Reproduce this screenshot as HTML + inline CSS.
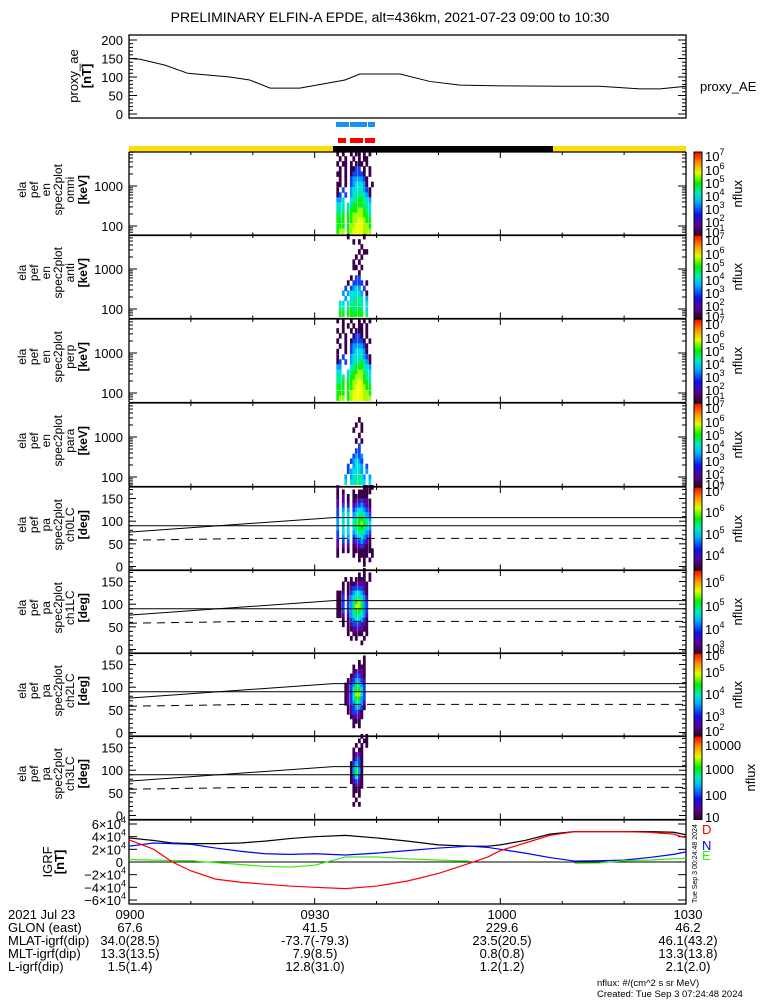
<!DOCTYPE html>
<html><head><meta charset="utf-8">
<style>
html,body{margin:0;padding:0;background:#fff;}
svg{display:block;font-family:"Liberation Sans",sans-serif;}
</style></head>
<body>
<svg id="c" width="775" height="1000" viewBox="0 0 775 1000" xmlns="http://www.w3.org/2000/svg">
<defs>
<linearGradient id="rb" x1="0" y1="1" x2="0" y2="0">
<stop offset="0" stop-color="#2a0030"/><stop offset="0.12" stop-color="#5a0090"/><stop offset="0.25" stop-color="#1010f0"/><stop offset="0.4" stop-color="#00b0ff"/><stop offset="0.5" stop-color="#00e8c0"/><stop offset="0.62" stop-color="#00f000"/><stop offset="0.75" stop-color="#e0ff00"/><stop offset="0.87" stop-color="#ff9000"/><stop offset="1" stop-color="#ff0000"/>
</linearGradient>
</defs>
<text x="390" y="22" font-size="14" text-anchor="middle">PRELIMINARY ELFIN-A EPDE, alt=436km, 2021-07-23 09:00 to 10:30</text>
</svg>
<script>
// ---- data ----
var aeTimes=[0,1.8,5.8,9.5,16.3,19.5,22.8,27.6,34.9,37.3,43.8,48.6,53.5,60,70,76,82.5,85.8,90];
var aeValues=[150,148,132,110,100,92,70,70,92,108,108,88,78,76,75,75,68,68,75];
var igrfTimes=[0,4,7,10,14,18,22,26,30,35,40,45,50,55,58,60,64,68,72,76,80,84,88,90];
var igrfD=[35000,20000,0,-14000,-27000,-32000,-35000,-38000,-40000,-42000,-38000,-30000,-18000,-2000,8000,18000,30000,42000,48000,48000,48000,47000,44000,38000];
var igrfTot=[38000,34000,30000,29000,29000,30000,33000,37000,40000,42000,38000,33000,27000,25000,25000,27000,34000,44000,48000,48000,48000,48000,47000,43000];
var igrfN=[25000,30000,29000,28000,22000,17000,13000,12000,13000,11000,14000,18000,22000,25000,23000,20000,14000,7000,1500,2000,3000,7000,12000,16000];
var igrfE=[4000,3000,2500,2000,-1000,-4000,-7000,-8000,-5000,8000,8000,5000,3000,1500,null,null,null,null,-2000,-1500,2000,3000,5000,6000];
var colTimes=[33.5,33.9,34.4,34.8,35.2,35.7,36.1,36.5,37.0,37.4,37.8,38.2,38.7,39.1];
var energyBins=[6500,4800,3600,2700,2000,1500,1100,800,600,450,330,250,185,140,100,75];
var paBins=[175,165,155,145,135,125,115,105,95,85,75,65,55,45,35,25,15,5];
var specOmni=["1.1..1.11.1.1.",".1.1..1.1.11..","1.11.1.111.1..",".1.1.1133.1.1.","11.1.133331.1.",".1.1.3444431..","11.1.3455541.1","1.3..45556431.","13.3.45666541.","445..56677654.","556.567777665.","656.677788765.","767.778888776.","777.778899877.","777.788999887.","788.789999888."];
var specAnti=["....1.....1...","......1.1.....",".........1....","........1.11..",".......1.1....","......1.1.....","......11.1....","........1.....",".....1.33.....","....1.3333.1..","...3.3454.3...","..4.455554.1..","...4.55665.4..",".55.566665.5..",".66.676676.5..",".77.777777.6.."];
var specPerp=["1.1..1..1.1.1.","..1.1.1.11.1..","1.1..1.111.1..",".1.1..1331.1..","1..1.133331.1.",".1.1.3444431..","1..1.3455541..","1.3..45556431.","13.3.45667541.","44...56777654.","55..567788665.","666.677888765.","667.778899776.","777.778999877.","777.789999887.","788.789999888."];
var specPara=["..............","..............","..............","........1.....",".......1.1....","......1..1....","........1.....",".......1.1....","........3.....",".......33.....","......3434....",".....34543....","....3.4554.3..","....345554.4..","...4.456654.4.","...5.556655.5."];
var specCh0=["2.........1111","1.1...1.11111.","1.2.1.111111..","2.2.1.1223221.","2.3.2.2334321.","3.4.4.3455432.","3.5.5.4566543.","4.5.5.5677654.","4.5.5.6678765.","4.5.5.5677654.","3.5.5.4566543.","3.4.4.3455432.","2.3.3.2334321.","2.2.2.1223211.","1.1.1.11111111","1.....1.1111.1","........1.1.1.","..........1..."];
var specCh1=["..........1...","........1.1.1.","...1.1.1111.1.","..1.11122221..","..1.12333321..","112.13455431..","113.24566542..","113.34678643..","113.34688743..","113.34677643..","112.24566542..","..1.13455431..","..1.12333221..","....11222211..","....1.1111.1..",".....1.1..1...",".........1....",".............."];
var specCh2=["..............","..........1...","........1.1...","......1.111...","......12221...",".....123321...","....1234432...","...12346643...","...12357753...","...12358853...","...12357743...","...12346542...","....1234431...","....123321....",".....12221....","......111.....","......1.1.....",".............."];
var specCh3=[".........1.1..","........1.11..",".......1.1.1..","......1.11....","......1221....","......1331....",".....13431....",".....14641....",".....14741....",".....13531....",".....12321....","......1221....","......111.....","......1.1.....",".......1......","......1.1.....","..............",".............."];
var specUnits=["omni","anti","perp","para"];
var paUnits=["ch0LC","ch1LC","ch2LC","ch3LC"];
var bottomRowLabels=["2021 Jul 23","GLON (east)","MLAT-igrf(dip)","MLT-igrf(dip)","L-igrf(dip)"];
var col0900=["0900","67.6","34.0(28.5)","13.3(13.5)","1.5(1.4)"];
var col0930=["0930","41.5","-73.7(-79.3)","7.9(8.5)","12.8(31.0)"];
var col1000=["1000","229.6","23.5(20.5)","0.8(0.8)","1.2(1.2)"];
var col1030=["1030","46.2","46.1(43.2)","13.3(13.8)","2.1(2.0)"];

// ---- helpers ----
var svg=document.getElementById('c');
var NS='http://www.w3.org/2000/svg';
var X0=129,X1=686,TMAX=90;
function xs(t){return X0+(t/TMAX)*(X1-X0);}
function mk(tag,at,parent){var e=document.createElementNS(NS,tag);for(var k in at)e.setAttribute(k,at[k]);(parent||svg).appendChild(e);return e;}
function txt(x,y,s,size,anchor,parent,fill){var e=mk('text',{x:x,y:y,'font-size':size||13,'text-anchor':anchor||'start',fill:fill||'#000'},parent);e.textContent=s;return e;}
var cmap=['#fff','#380048','#6000a8','#1040f0','#00a0ff','#00e0e0','#00f090','#10f010','#a0ff00','#f0ff00'];

var panelTops=[152,235,319,403,487,570,653,736];
var PH=83.5;

// ---- AE panel ----
var gAE=mk('g',{});


function yAE(v){return 114-v*0.37;}
mk('rect',{x:X0,y:35,width:X1-X0,height:83,fill:'none',stroke:'#000','stroke-width':1.3},gAE);
var aeTicks=[0,50,100,150,200];
aeTicks.forEach(function(v){txt(X0-6,yAE(v)+5,String(v),13,'end',gAE);mk('line',{x1:X0,x2:X0+8,y1:yAE(v),y2:yAE(v),stroke:'#000'},gAE);mk('line',{x1:X1,x2:X1-8,y1:yAE(v),y2:yAE(v),stroke:'#000'},gAE);});
for(var v=10;v<210;v+=10){if(v%50){mk('line',{x1:X0,x2:X0+4,y1:yAE(v),y2:yAE(v),stroke:'#000'},gAE);mk('line',{x1:X1,x2:X1-4,y1:yAE(v),y2:yAE(v),stroke:'#000'},gAE);}}
var aeP=aeTimes.map(function(t,i){return xs(t)+','+yAE(aeValues[i]);}).join(' ');
var aeLine=mk('polyline',{points:aeP,fill:'none',stroke:'#000','stroke-width':1},gAE);


var aet=mk('text',{transform:'translate(78,76) rotate(-90)','font-size':13,'text-anchor':'middle'},gAE);aet.textContent='proxy_ae';
var aet2=mk('text',{transform:'translate(91,76) rotate(-90)','font-size':13,'text-anchor':'middle','font-weight':'bold'},gAE);aet2.textContent='[nT]';
txt(700,91,'proxy_AE',13,'start',gAE);

// ---- mode bars ----
var gB=mk('g',{});


[[336,349],[350,367],[368,375]].forEach(function(s){mk('rect',{x:s[0],y:122,width:s[1]-s[0],height:5,fill:'#1a90f0'},gB);});
[[338,346],[350,363],[365,375]].forEach(function(s){mk('rect',{x:s[0],y:138,width:s[1]-s[0],height:5,fill:'#ff0000'},gB);});
mk('rect',{x:X0,y:146,width:204,height:6,fill:'#ffdd00'},gB);
mk('rect',{x:333,y:146,width:220,height:6,fill:'#000'},gB);
mk('rect',{x:553,y:146,width:X1-553,height:6,fill:'#ffdd00'},gB);

// ---- colorbar tick labels ----
var cbLabels=[
 [[156,'7'],[170,'6'],[183,'5'],[196,'4'],[209,'3'],[222,'2'],[232,'1']],
 [[240,'7'],[254,'6'],[267,'5'],[280,'4'],[293,'3'],[306,'2'],[316,'1']],
 [[324,'7'],[338,'6'],[351,'5'],[364,'4'],[377,'3'],[390,'2'],[400,'1']],
 [[408,'7'],[422,'6'],[435,'5'],[448,'4'],[461,'3'],[474,'2'],[484,'1']],
 [[491,'7'],[512,'6'],[534,'5'],[555,'4']],
 [[582,'6'],[606,'5'],[629,'4'],[648,'3']],
 [[655,'6'],[672,'5'],[694,'4'],[716,'3'],[731,'2']],
 [[745,'10000'],[769,'1000'],[795,'100'],[817,'10']]
];

function drawPanel(i,grid,isPA,unit){
  var top=panelTops[i],bot=top+PH;
  var g=mk('g',{});
  
  
  var yf,bins,bh;
  if(isPA){yf=function(d){return bot-4-d*0.453;};bins=paBins;bh=10*0.453;}
  else{yf=function(e){return top+(3.85-Math.log10(e))*40;};bins=energyBins;bh=0.13*40;}
  var cw=(colTimes[1]-colTimes[0])*(X1-X0)/TMAX;
  grid.forEach(function(row,r){
    for(var c=0;c<row.length&&c<colTimes.length;c++){
      var ch=row[c];if(ch==='.')continue;
      var yc=yf(bins[r]);
      mk('rect',{x:xs(colTimes[c]),y:yc-bh/2,width:cw+0.3,height:bh+0.3,fill:cmap[+ch]},g);
    }
  });
  mk('line',{x1:X0,x2:X1,y1:top,y2:top,stroke:'#000','stroke-width':1.3},g);
  mk('line',{x1:X0,x2:X1,y1:bot,y2:bot,stroke:'#000','stroke-width':1.3},g);
  mk('line',{x1:X0,x2:X0,y1:top,y2:bot,stroke:'#000','stroke-width':1.3},g);
  mk('line',{x1:X1,x2:X1,y1:top,y2:bot,stroke:'#000','stroke-width':1.3},g);
  for(var m=10;m<90;m+=10){var tx=xs(m);var L=(m%30===0)?6:3;mk('line',{x1:tx,x2:tx,y1:bot,y2:bot-L,stroke:'#000'},g);mk('line',{x1:tx,x2:tx,y1:top,y2:top+L,stroke:'#000'},g);}
  if(isPA){
    [0,50,100,150].forEach(function(d){txt(X0-6,yf(d)+5,String(d),13,'end',g);mk('line',{x1:X0,x2:X0+7,y1:yf(d),y2:yf(d),stroke:'#000'},g);mk('line',{x1:X1,x2:X1-7,y1:yf(d),y2:yf(d),stroke:'#000'},g);});
    for(var d=10;d<=180;d+=10){if(d%50){mk('line',{x1:X0,x2:X0+4,y1:yf(d),y2:yf(d),stroke:'#000'},g);mk('line',{x1:X1,x2:X1-4,y1:yf(d),y2:yf(d),stroke:'#000'},g);}}
    mk('polyline',{points:X0+','+yf(76)+' '+xs(33)+','+yf(108)+' '+X1+','+yf(108),fill:'none',stroke:'#000'},g);
    mk('line',{x1:X0,x2:X1,y1:yf(90),y2:yf(90),stroke:'#000'},g);
    mk('polyline',{points:X0+','+yf(58)+' '+xs(20)+','+yf(62)+' '+X1+','+yf(62),fill:'none',stroke:'#000','stroke-dasharray':'8,6'},g);
  } else {
    [100,1000].forEach(function(e){txt(X0-6,yf(e)+5,String(e),13,'end',g);mk('line',{x1:X0,x2:X0+8,y1:yf(e),y2:yf(e),stroke:'#000'},g);mk('line',{x1:X1,x2:X1-8,y1:yf(e),y2:yf(e),stroke:'#000'},g);});
    [70,80,90,200,300,400,500,600,700,800,900,2000,3000,4000,5000,6000,7000].forEach(function(e){mk('line',{x1:X0,x2:X0+4,y1:yf(e),y2:yf(e),stroke:'#000'},g);mk('line',{x1:X1,x2:X1-4,y1:yf(e),y2:yf(e),stroke:'#000'},g);});
  }
  var lines=isPA?['ela','pef','pa','spec2plot',unit,'[deg]']:['ela','pef','en','spec2plot',unit,'[keV]'];
  var lx=[26,38,50,62,74,87];
  var cy=top+PH/2-4;
  lines.forEach(function(s,k){var t=mk('text',{transform:'translate('+lx[k]+','+cy+') rotate(-90)','font-size':12,'text-anchor':'middle','font-weight':k===5?'bold':'normal'},g);t.textContent=s;});
  var cb=mk('rect',{x:694,y:top,width:8,height:PH,fill:'url(#rb)',stroke:'#000','stroke-width':1},g);
  
  
  cbLabels[i].forEach(function(l){
    if(l[1].length>1){txt(705,l[0]+5,l[1],13,'start',g);}
    else{var t=txt(705,l[0]+5,'10',13,'start',g);var sp=mk('tspan',{dy:-6,'font-size':9},t);sp.textContent=l[1];}
  });
  var nf=mk('text',{transform:'translate('+(i===7?755:742)+','+(top+PH/2)+') rotate(-90)','font-size':13,'text-anchor':'middle'},g);nf.textContent='nflux';
}
drawPanel(0,specOmni,false,specUnits[0]);
drawPanel(1,specAnti,false,specUnits[1]);
drawPanel(2,specPerp,false,specUnits[2]);
drawPanel(3,specPara,false,specUnits[3]);
drawPanel(4,specCh0,true,paUnits[0]);
drawPanel(5,specCh1,true,paUnits[1]);
drawPanel(6,specCh2,true,paUnits[2]);
drawPanel(7,specCh3,true,paUnits[3]);

// ---- IGRF panel ----
var gI=mk('g',{});


var IT=820,IB=904;
function yI(v){return 862-v/60000*38;}
mk('rect',{x:X0,y:IT,width:X1-X0,height:IB-IT,fill:'none',stroke:'#000','stroke-width':1.3},gI);
mk('line',{x1:X0,x2:X1,y1:yI(0),y2:yI(0),stroke:'#000'},gI);
[-60000,-40000,-20000,0,20000,40000,60000].forEach(function(v){
  var y=yI(v);mk('line',{x1:X0,x2:X0+8,y1:y,y2:y,stroke:'#000'},gI);mk('line',{x1:X1,x2:X1-8,y1:y,y2:y,stroke:'#000'},gI);
  if(v===0){txt(X0-6,y+5,'0',13,'end',gI);}
  else{txt(X0-8,y+5,(v<0?'\u2212':'')+Math.abs(v/10000)+'\u00d710',13,'end',gI);txt(X0-8,y-1,'4',9,'start',gI);}
});
for(var m=10;m<90;m+=10){var tx=xs(m);var L=(m%30===0)?6:3;mk('line',{x1:tx,x2:tx,y1:IB,y2:IB-L,stroke:'#000'},gI);mk('line',{x1:tx,x2:tx,y1:IT,y2:IT+L,stroke:'#000'},gI);}
function series(arr,color,name){
  var segs=[],cur=[];
  igrfTimes.forEach(function(t,i){if(arr[i]===null){if(cur.length)segs.push(cur);cur=[];}else cur.push(xs(t)+','+yI(arr[i]));});
  if(cur.length)segs.push(cur);
  segs.forEach(function(s){var p=mk('polyline',{points:s.join(' '),fill:'none',stroke:color,'stroke-width':1.2},gI);
  
  });
}
series(igrfTot,'#000','igrf-total-line');
series(igrfN,'#0000ff','igrf-n-line');
series(igrfE,'#30f000','igrf-e-line');
series(igrfD,'#ff0000','igrf-d-line');
var il=mk('text',{transform:'translate(52,862) rotate(-90)','font-size':13,'text-anchor':'middle'},gI);il.textContent='IGRF';
var il2=mk('text',{transform:'translate(64,862) rotate(-90)','font-size':13,'text-anchor':'middle','font-weight':'bold'},gI);il2.textContent='[nT]';
txt(702,834,'D',13,'start',gI,'#ff0000');
txt(702,850,'N',13,'start',gI,'#0000ff');
txt(702,860,'E',13,'start',gI,'#30f000');
var st=mk('text',{transform:'translate(697,903) rotate(-90)','font-size':7,'text-anchor':'start'},gI);st.textContent='Tue Sep  3 00:24:48 2024';

// ---- bottom annotations ----
var gT=mk('g',{});


var rowY=[919,932,945,958,971];
bottomRowLabels.forEach(function(s,k){txt(8,rowY[k],s,13,'start',gT);});
[[col0900,130],[col0930,315],[col1000,502],[col1030,688]].forEach(function(c){c[0].forEach(function(s,k){txt(c[1],rowY[k],s,13,'middle',gT);});});
txt(597,986,'nflux: #/(cm^2 s sr MeV)',9.5,'start',gT);
txt(597,997,'Created: Tue Sep  3 07:24:48 2024',9.5,'start',gT);
</script>
</body></html>
